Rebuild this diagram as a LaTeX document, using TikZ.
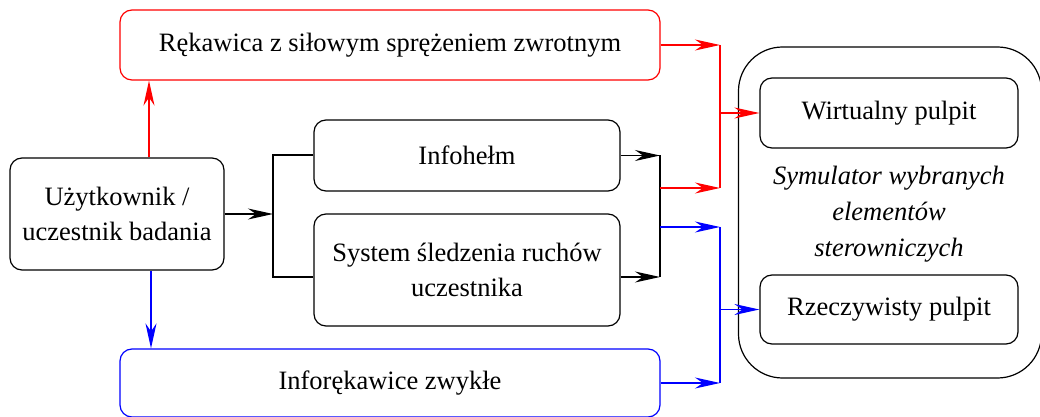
\documentclass[tikz,border=0pt]{standalone}
\usepackage{fontspec}
\setmainfont{Liberation Serif}
\usepackage{xcolor}
\usetikzlibrary{arrows.meta, positioning}

\begin{document}
\begin{tikzpicture}[
    x=0.5pt, y=-0.5pt,
    font=\fontsize{13.25}{17.5}\selectfont,
    box/.style={draw, rounded corners=6pt, align=center, line width=0.6pt, inner sep=2pt},
    arrow/.style={-{Stealth[length=12.5pt, width=5.5pt, inset=4pt]}, line width=0.6pt},
    bus/.style={line width=1pt}
]
\useasboundingbox (0,0) rectangle (1040,417);

\node[box, minimum width=107pt, minimum height=56pt] (user) at (117,214) {Użytkownik /\\uczestnik badania};
\node[box, red, text=black, minimum width=270pt, minimum height=35pt] (glove) at (390,45) {Rękawica z siłowym sprężeniem zwrotnym};
\node[box, minimum width=153pt, minimum height=35.5pt] (helmet) at (467,155.5) {Infohełm};
\node[box, minimum width=153pt, minimum height=56pt] (tracking) at (467,270) {System śledzenia ruchów\\uczestnika};
\node[box, blue, text=black, minimum width=270pt, minimum height=34pt] (plainglove) at (390,383) {Inforękawice zwykłe};

\node[box, rounded corners=22pt, minimum width=151.5pt, minimum height=165.5pt] (sim) at (890,212.5) {};
\node[box, minimum width=129pt, minimum height=35pt] (virtual) at (889,113) {Wirtualny pulpit};
\node[box, minimum width=129pt, minimum height=34.5pt] (real) at (889,309.5) {Rzeczywisty pulpit};
\node[align=center, font=\fontsize{13.25}{18}\selectfont\itshape] (simlabel) at (889,214) {Symulator wybranych\\elementów\\sterowniczych};

% user -> gloves
\draw[arrow, red] ([xshift=16pt]user.north) -- ([xshift=16pt]user.north |- glove.south);
\draw[arrow, blue] ([xshift=17pt]user.south) -- ([xshift=17pt]user.south |- plainglove.north);

% user -> helmet and tracking
\coordinate (lsplit) at (273,214);
\draw[arrow] (user.east) -- (lsplit);
\draw[bus] (helmet.west) -| (lsplit) |- ([yshift=-3.5pt]tracking.west);

% helmet and tracking -> joint bar
\coordinate (rtop) at (660,155.5);
\coordinate (rbot) at (660,277);
\draw[arrow] (helmet.east) -- (rtop);
\draw[arrow] ([yshift=-3.5pt]tracking.east) -- (rbot);
\draw[bus] (rtop) -- (rbot);

% red and blue bars
\coordinate (redjoin) at (720,188);
\coordinate (bluejoin) at (720,227);
\draw[arrow, red] (rtop |- redjoin) -- (redjoin);
\draw[arrow, blue] (rtop |- bluejoin) -- (bluejoin);
\draw[arrow, red] (glove.east) -- (glove.east -| redjoin);
\draw[bus, red] (glove.east -| redjoin) -- (redjoin);
\draw[arrow, red] (redjoin |- virtual.west) -- (virtual.west);
\draw[arrow, blue] (plainglove.east) -- (plainglove.east -| bluejoin);
\draw[bus, blue] (bluejoin) -- (plainglove.east -| bluejoin);
\draw[arrow, blue] (bluejoin |- real.west) -- (real.west);
\end{tikzpicture}
\end{document}
